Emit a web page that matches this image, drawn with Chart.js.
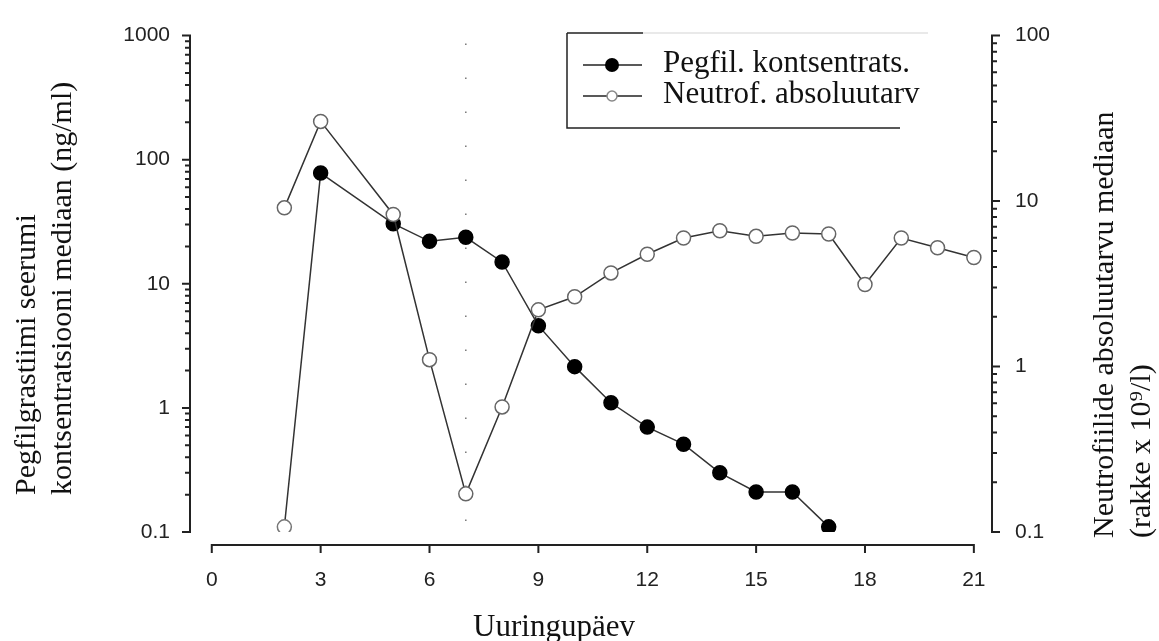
<!DOCTYPE html>
<html>
<head>
<meta charset="utf-8">
<script src="https://cdn.jsdelivr.net/npm/chart.js@4/dist/chart.umd.min.js"></script>
<style>
  html, body { margin: 0; padding: 0; background: #fff; }
  #wrap { position: relative; width: 1159px; height: 641px; }
</style>
</head>
<body>
<div id="wrap"><canvas id="chart"></canvas></div>
<script>
// medians, by study day
const pegDays = [2, 3, 5, 6, 7, 8, 9, 10, 11, 12, 13, 14, 15, 16, 17];
const pegConc = [0.11, 78, 30.5, 22, 23.7, 15, 4.6, 2.15, 1.1, 0.7, 0.51, 0.3, 0.21, 0.21, 0.11];
const pegOpenDays = [2]; // this point is an open circle in the original
const ancDays = [2, 3, 5, 6, 7, 8, 9, 10, 11, 12, 13, 14, 15, 16, 17, 18, 19, 20, 21];
const ancCount = [9.1, 30.3, 8.3, 1.1, 0.17, 0.57, 2.2, 2.64, 3.68, 4.77, 5.98, 6.62, 6.12, 6.41, 6.32, 3.13, 5.98, 5.22, 4.56];
const xTicks = [0, 3, 6, 9, 12, 15, 18, 21];
const leftTicks = [0.1, 1, 10, 100, 1000];
const rightTicks = [0.1, 1, 10, 100];
const doseDay = 7;
const seriesNames = ['Pegfil. kontsentrats.', 'Neutrof. absoluutarv'];
const xTitle = 'Uuringupäev';
const leftTitle = ['Pegfilgrastiimi seerumi', 'kontsentratsiooni mediaan (ng/ml)'];
const rightTitle = ['Neutrofiilide absoluutarvu mediaan', '(rakke x 10\u2079/l)'];

const serif = '"Liberation Serif", "Times New Roman", serif';
Chart.defaults.font.family = '"Liberation Sans", Arial, sans-serif';
Chart.defaults.color = '#222';

// log ticks: majors from the list, minors 2..9 inside each decade
function logTicks(majors) {
  let out = [];
  majors.forEach((m, i) => {
    out.push({ value: m, major: true });
    if (i < majors.length - 1) {
      for (let k = 2; k < 10; k++) out.push({ value: +(m * k).toPrecision(3), major: false });
    }
  });
  return out;
}

const drawExtras = {
  id: 'drawExtras',
  afterDraw(chart) {
    const ctx = chart.ctx;
    const a = chart.chartArea;
    const xs = chart.scales.x, yl = chart.scales.y, yr = chart.scales.y2;
    ctx.save();

    // dotted line on dosing day
    ctx.strokeStyle = '#777';
    ctx.lineWidth = 1.5;
    ctx.setLineDash([1.5, 32.5]);
    ctx.beginPath();
    ctx.moveTo(xs.getPixelForValue(doseDay), a.top + 8);
    ctx.lineTo(xs.getPixelForValue(doseDay), a.bottom);
    ctx.stroke();
    ctx.setLineDash([]);

    // axes
    ctx.strokeStyle = '#222';
    ctx.lineWidth = 2;
    ctx.beginPath();
    ctx.moveTo(a.left, yl.getPixelForValue(leftTicks[leftTicks.length - 1]) - 1);
    ctx.lineTo(a.left, yl.getPixelForValue(leftTicks[0]) + 1);
    yl.ticks.forEach(t => {
      const y = yl.getPixelForValue(t.value);
      ctx.moveTo(a.left, y);
      ctx.lineTo(a.left - (t.major ? 8 : 5), y);
    });
    ctx.moveTo(a.right, yr.getPixelForValue(rightTicks[rightTicks.length - 1]) - 1);
    ctx.lineTo(a.right, yr.getPixelForValue(rightTicks[0]) + 1);
    yr.ticks.forEach(t => {
      const y = yr.getPixelForValue(t.value);
      ctx.moveTo(a.right, y);
      ctx.lineTo(a.right + (t.major ? 8 : 5), y);
    });
    const xy = a.bottom + 13;
    ctx.moveTo(xs.getPixelForValue(xTicks[0]) - 1, xy);
    ctx.lineTo(xs.getPixelForValue(xTicks[xTicks.length - 1]) + 1, xy);
    xs.ticks.forEach(t => {
      const x = xs.getPixelForValue(t.value);
      ctx.moveTo(x, xy);
      ctx.lineTo(x, xy + 8);
    });
    ctx.stroke();

    // axis titles
    ctx.fillStyle = '#111';
    ctx.font = '31px ' + serif;
    ctx.textAlign = 'center';
    ctx.textBaseline = 'alphabetic';
    ctx.fillText(xTitle, 554, 636);

    ctx.font = '30px ' + serif;
    ctx.textBaseline = 'middle';
    ctx.save();
    ctx.translate(27, 495);
    ctx.rotate(-Math.PI / 2);
    ctx.textAlign = 'left';
    ctx.fillText(leftTitle[0], 0, 0);
    ctx.fillText(leftTitle[1], 0, 36);
    ctx.restore();

    ctx.save();
    ctx.translate(1105, 538);
    ctx.rotate(-Math.PI / 2);
    ctx.textAlign = 'left';
    ctx.fillText(rightTitle[0], 0, 0);
    ctx.fillText(rightTitle[1], 0, 37);
    ctx.restore();

    // legend box
    ctx.lineWidth = 1.5;
    ctx.strokeStyle = '#222';
    ctx.beginPath();
    ctx.moveTo(567, 33); ctx.lineTo(643, 33);
    ctx.moveTo(567, 33); ctx.lineTo(567, 128); ctx.lineTo(900, 128);
    ctx.stroke();
    ctx.strokeStyle = '#e2e2e2';
    ctx.beginPath();
    ctx.moveTo(643, 33); ctx.lineTo(928, 33);
    ctx.stroke();

    const rows = [65, 96];
    rows.forEach((ry, i) => {
      ctx.strokeStyle = '#222';
      ctx.lineWidth = 1.5;
      ctx.beginPath();
      ctx.moveTo(583, ry); ctx.lineTo(642, ry);
      ctx.stroke();
      ctx.beginPath();
      if (i === 0) {
        ctx.arc(612, ry, 7, 0, Math.PI * 2);
        ctx.fillStyle = '#000';
        ctx.fill();
      } else {
        ctx.arc(612, ry, 5, 0, Math.PI * 2);
        ctx.fillStyle = '#fff';
        ctx.fill();
        ctx.strokeStyle = '#888';
        ctx.stroke();
      }
      ctx.fillStyle = '#111';
      ctx.font = '31px ' + serif;
      ctx.textAlign = 'left';
      ctx.textBaseline = 'alphabetic';
      ctx.fillText(seriesNames[i], 663, ry + 7);
    });

    ctx.restore();
  }
};

new Chart(document.getElementById('chart'), {
  type: 'line',
  data: {
    datasets: [
      {
        label: seriesNames[0],
        data: pegDays.map((d, i) => ({ x: d, y: pegConc[i] })),
        yAxisID: 'y',
        order: 1,
        borderColor: '#333',
        borderWidth: 1.5,
        pointRadius: 7,
        pointBorderWidth: 1.5,
        pointBackgroundColor: pegDays.map(d => pegOpenDays.includes(d) ? '#fff' : '#000'),
        pointBorderColor: pegDays.map(d => pegOpenDays.includes(d) ? '#777' : '#000'),
        tension: 0
      },
      {
        label: seriesNames[1],
        data: ancDays.map((d, i) => ({ x: d, y: ancCount[i] })),
        yAxisID: 'y2',
        order: 0,
        borderColor: '#333',
        borderWidth: 1.5,
        pointRadius: 7,
        pointBorderWidth: 1.5,
        pointBackgroundColor: '#fff',
        pointBorderColor: '#666',
        tension: 0
      }
    ]
  },
  options: {
    responsive: true,
    maintainAspectRatio: false,
    animation: false,
    layout: { padding: { top: 25, left: 0, right: 0, bottom: 0 } },
    plugins: { legend: { display: false }, tooltip: { enabled: false } },
    scales: {
      x: {
        type: 'linear',
        min: -0.6,
        max: 21.5,
        afterBuildTicks: s => { s.ticks = xTicks.map(v => ({ value: v })); },
        afterFit: s => { s.height = 109; },
        grid: { display: false, drawTicks: false },
        border: { display: false },
        ticks: { padding: 36, autoSkip: false, maxRotation: 0, font: { size: 21 }, color: '#222' }
      },
      y: {
        type: 'logarithmic',
        position: 'left',
        min: 0.1,
        max: 1000,
        afterBuildTicks: s => { s.ticks = logTicks(leftTicks); },
        afterFit: s => { s.width = 190; },
        grid: { display: false, drawTicks: false },
        border: { display: false },
        ticks: {
          padding: 20, autoSkip: false, font: { size: 21 }, color: '#222',
          callback: v => leftTicks.includes(v) ? String(v) : ''
        }
      },
      y2: {
        type: 'logarithmic',
        position: 'right',
        min: 0.1,
        max: 100,
        afterBuildTicks: s => { s.ticks = logTicks(rightTicks); },
        afterFit: s => { s.width = 167; },
        grid: { display: false, drawTicks: false },
        border: { display: false },
        ticks: {
          padding: 23, autoSkip: false, font: { size: 21 }, color: '#222',
          callback: v => rightTicks.includes(v) ? String(v) : ''
        }
      }
    }
  },
  plugins: [drawExtras]
});
</script>
</body>
</html>
